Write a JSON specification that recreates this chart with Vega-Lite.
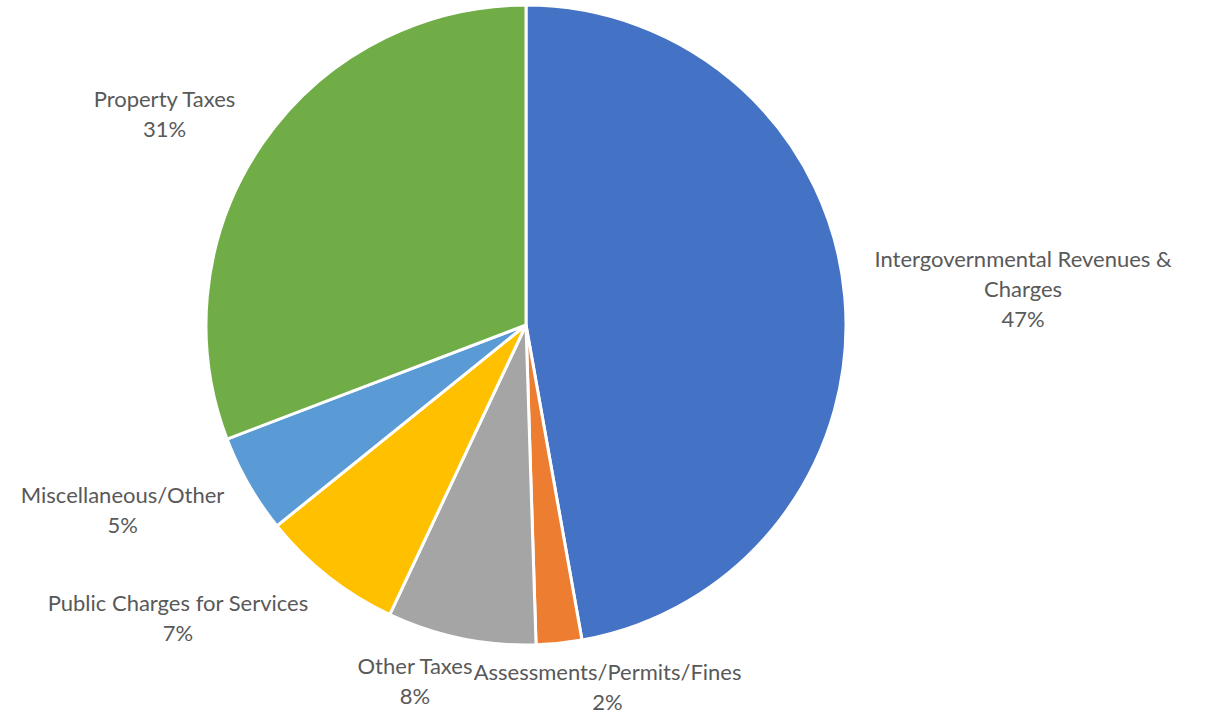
{
  "$schema": "https://vega.github.io/schema/vega-lite/v6.json",
  "width": 1052,
  "height": 650,
  "autosize": {"type": "none"},
  "padding": {"left": 0, "top": 0, "right": 154, "bottom": 66},
  "background": "white",
  "config": {"view": {"stroke": null}},
  "data": {
    "values": [
      {"order": 1, "name": "Intergovernmental Revenues & Charges", "share": 47.2, "label": "Intergovernmental Revenues &\nCharges\n47%"},
      {"order": 2, "name": "Assessments/Permits/Fines", "share": 2.3, "label": "Assessments/Permits/Fines\n2%"},
      {"order": 3, "name": "Other Taxes", "share": 7.5, "label": "Other Taxes\n8%"},
      {"order": 4, "name": "Public Charges for Services", "share": 7.2, "label": "Public Charges for Services\n7%"},
      {"order": 5, "name": "Miscellaneous/Other", "share": 5.0, "label": "Miscellaneous/Other\n5%"},
      {"order": 6, "name": "Property Taxes", "share": 30.8, "label": "Property Taxes\n31%"}
    ]
  },
  "encoding": {
    "theta": {"field": "share", "type": "quantitative", "stack": true},
    "order": {"field": "order", "type": "quantitative"}
  },
  "layer": [
    {
      "mark": {"type": "arc", "outerRadius": 320, "stroke": "white", "strokeWidth": 3},
      "encoding": {
        "color": {
          "field": "name",
          "type": "nominal",
          "legend": null,
          "scale": {
            "domain": ["Intergovernmental Revenues & Charges", "Assessments/Permits/Fines", "Other Taxes", "Public Charges for Services", "Miscellaneous/Other", "Property Taxes"],
            "range": ["#4472C4", "#ED7D31", "#A5A5A5", "#FFC000", "#5B9BD5", "#70AD47"]
          }
        }
      }
    },
    {
      "mark": {"type": "text", "radius": 499, "dy": -21, "align": "center", "baseline": "middle", "lineBreak": "\n", "lineHeight": 30, "font": "Lato", "fontSize": 22, "fill": "#595959"},
      "encoding": {
        "detail": {"field": "name"},
        "text": {"condition": {"test": "datum.order === 1", "field": "label"}, "value": ""}
      }
    },
    {
      "mark": {"type": "text", "radius": 363, "dx": 44, "dy": -13, "align": "center", "baseline": "middle", "lineBreak": "\n", "lineHeight": 30, "font": "Lato", "fontSize": 22, "fill": "#595959"},
      "encoding": {
        "detail": {"field": "name"},
        "text": {"condition": {"test": "datum.order === 2", "field": "label"}, "value": ""}
      }
    },
    {
      "mark": {"type": "text", "radius": 365, "dx": -37, "dy": -15, "align": "center", "baseline": "middle", "lineBreak": "\n", "lineHeight": 30, "font": "Lato", "fontSize": 22, "fill": "#595959"},
      "encoding": {
        "detail": {"field": "name"},
        "text": {"condition": {"test": "datum.order === 3", "field": "label"}, "value": ""}
      }
    },
    {
      "mark": {"type": "text", "radius": 374, "dx": -117, "dy": -15, "align": "center", "baseline": "middle", "lineBreak": "\n", "lineHeight": 30, "font": "Lato", "fontSize": 22, "fill": "#595959"},
      "encoding": {
        "detail": {"field": "name"},
        "text": {"condition": {"test": "datum.order === 4", "field": "label"}, "value": ""}
      }
    },
    {
      "mark": {"type": "text", "radius": 373, "dx": -80, "dy": -15, "align": "center", "baseline": "middle", "lineBreak": "\n", "lineHeight": 30, "font": "Lato", "fontSize": 22, "fill": "#595959"},
      "encoding": {
        "detail": {"field": "name"},
        "text": {"condition": {"test": "datum.order === 5", "field": "label"}, "value": ""}
      }
    },
    {
      "mark": {"type": "text", "radius": 439, "dy": 24, "align": "center", "baseline": "middle", "lineBreak": "\n", "lineHeight": 30, "font": "Lato", "fontSize": 22, "fill": "#595959"},
      "encoding": {
        "detail": {"field": "name"},
        "text": {"condition": {"test": "datum.order === 6", "field": "label"}, "value": ""}
      }
    }
  ]
}
